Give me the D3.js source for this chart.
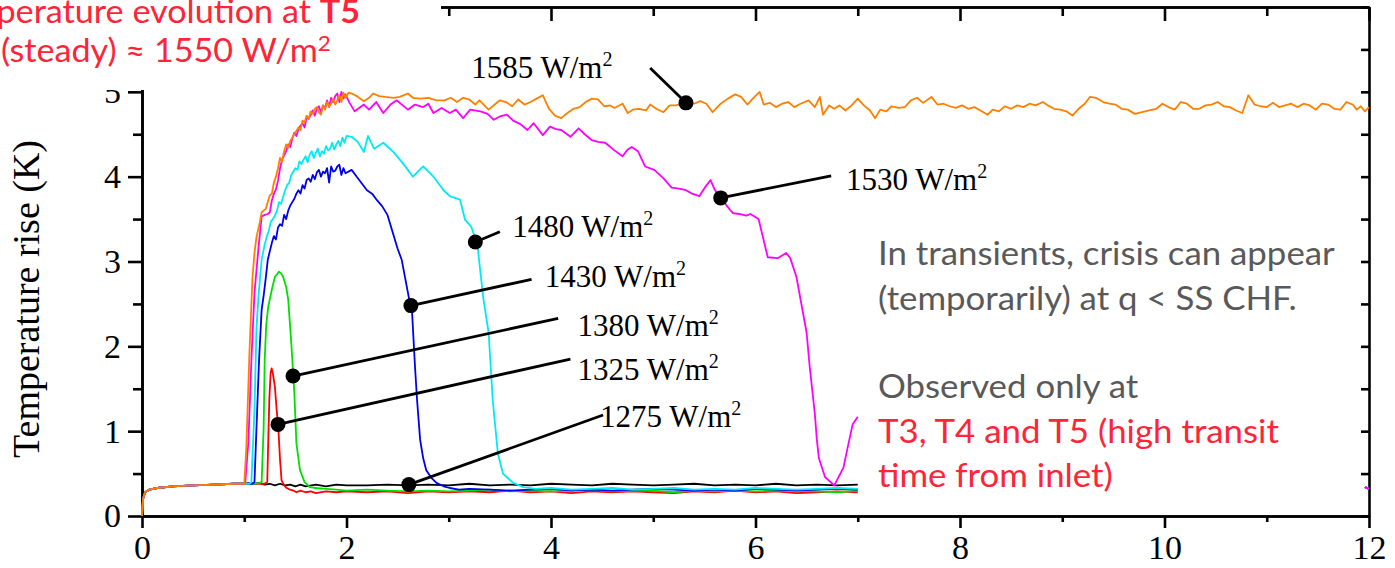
<!DOCTYPE html>
<html>
<head>
<meta charset="utf-8">
<script src="https://cdn.jsdelivr.net/npm/d3@7"></script>
<style>
  html, body { margin: 0; padding: 0; background: #fff; }
  svg { display: block; }
</style>
</head>
<body>
<script>

/**
 * Time axis (s) and temperature rise (K) ticks.
 */
var xMajor = [0, 2, 4, 6, 8, 10, 12];
var xMinor = [1, 3, 5, 7, 9, 11];
var yMajor = [0, 1, 2, 3, 4, 5];
var yMinor = [0.5, 1.5, 2.5, 3.5, 4.5, 5.5];

// Shared pre-transient baseline, every run starts on it.
var baseline = [
  [0, 0], [0.01, 0.2], [0.03, 0.28], [0.07, 0.31], [0.15, 0.33],
  [0.3, 0.35], [0.5, 0.36], [0.7, 0.37], [0.9, 0.38], [1.0, 0.38]
];

// Short stub the logger wrote at the very end of the window.
var endStub = [[7.05, null], [11.96, 0.34], [12, 0.32]];

var q1275 = [
  [1.05, 0.39], [1.1, 0.38], [1.15, 0.39], [1.2, 0.37], [1.25, 0.38],
  [1.3, 0.36], [1.35, 0.38], [1.4, 0.36], [1.45, 0.37], [1.5, 0.35],
  [1.55, 0.37], [1.6, 0.35], [1.7, 0.37], [1.8, 0.35], [1.9, 0.37],
  [2.0, 0.36], [2.2, 0.36], [2.4, 0.37], [2.6, 0.36], [2.8, 0.37],
  [3.0, 0.36], [3.2, 0.38], [3.4, 0.36], [3.6, 0.37], [3.8, 0.36],
  [4.0, 0.38], [4.2, 0.37], [4.4, 0.36], [4.6, 0.38], [4.8, 0.37],
  [5.0, 0.36], [5.2, 0.37], [5.4, 0.38], [5.6, 0.36], [5.8, 0.37],
  [6.0, 0.36], [6.2, 0.38], [6.4, 0.36], [6.6, 0.37], [6.8, 0.36],
  [7.0, 0.37]
];

var q1325 = [
  [1.1, 0.38], [1.2, 0.38], [1.225, 0.4], [1.235, 0.9], [1.245, 1.37],
  [1.258, 1.69], [1.268, 1.74], [1.28, 1.68], [1.3, 1.52], [1.317, 1.25],
  [1.333, 1.05], [1.35, 0.66], [1.365, 0.42], [1.39, 0.36], [1.415, 0.33],
  [1.45, 0.31], [1.48, 0.3], [1.51, 0.28], [1.55, 0.3], [1.6, 0.28],
  [1.65, 0.29], [1.7, 0.27], [1.8, 0.29], [1.9, 0.28], [2.0, 0.29],
  [2.2, 0.28], [2.4, 0.29], [2.6, 0.27], [2.8, 0.29], [3.0, 0.28],
  [3.2, 0.29], [3.4, 0.28], [3.6, 0.3], [3.8, 0.28], [4.0, 0.29],
  [4.2, 0.27], [4.4, 0.29], [4.6, 0.28], [4.8, 0.29], [5.0, 0.28],
  [5.2, 0.27], [5.4, 0.29], [5.6, 0.28], [5.8, 0.3], [6.0, 0.28],
  [6.2, 0.29], [6.4, 0.27], [6.6, 0.28], [6.8, 0.29], [7.0, 0.28]
];

var q1380 = [
  [1.1, 0.38], [1.15, 0.39], [1.17, 0.4], [1.19, 1.05], [1.2, 1.84],
  [1.215, 2.25], [1.235, 2.47], [1.27, 2.67], [1.3, 2.82], [1.32, 2.85],
  [1.34, 2.88], [1.36, 2.86], [1.38, 2.82], [1.41, 2.7], [1.43, 2.55],
  [1.46, 2.04], [1.49, 1.45], [1.51, 0.86], [1.545, 0.54], [1.59, 0.4],
  [1.64, 0.34], [1.7, 0.33], [1.8, 0.32], [1.9, 0.31], [2.0, 0.3],
  [2.2, 0.31], [2.4, 0.3], [2.6, 0.29], [2.8, 0.3], [3.0, 0.29],
  [3.2, 0.3], [3.4, 0.31], [3.6, 0.29], [3.8, 0.3], [4.0, 0.29],
  [4.2, 0.3], [4.4, 0.31], [4.6, 0.29], [4.8, 0.3], [5.0, 0.3],
  [5.2, 0.28], [5.4, 0.3], [5.6, 0.29], [5.8, 0.3], [6.0, 0.29],
  [6.2, 0.3], [6.4, 0.3], [6.6, 0.29], [6.8, 0.28], [7.0, 0.3]
];

var q1430 = [
  [1.08, 0.38], [1.1, 0.4], [1.12, 1.05], [1.145, 1.84], [1.17, 2.43],
  [1.19, 2.6], [1.21, 2.8], [1.23, 3.02], [1.25, 3.12], [1.27, 3.22],
  [1.29, 3.3], [1.31, 3.26], [1.33, 3.4], [1.35, 3.44], [1.37, 3.42],
  [1.39, 3.55], [1.41, 3.5], [1.43, 3.6], [1.45, 3.66], [1.47, 3.7],
  [1.49, 3.74], [1.51, 3.8], [1.53, 3.84], [1.55, 3.8], [1.57, 3.9],
  [1.59, 3.86], [1.61, 3.96], [1.63, 3.98], [1.65, 3.94], [1.67, 4.02],
  [1.69, 3.97], [1.71, 4.05], [1.73, 4.08], [1.75, 4.0], [1.77, 4.06],
  [1.79, 4.04], [1.81, 4.1], [1.83, 3.93], [1.85, 4.12], [1.87, 4.06],
  [1.89, 4.07], [1.91, 4.12], [1.93, 4.14], [1.95, 4.02], [1.97, 4.1],
  [1.99, 4.04], [2.05, 4.08], [2.1, 4.0], [2.15, 3.92], [2.2, 3.84],
  [2.25, 3.8], [2.3, 3.72], [2.35, 3.65], [2.4, 3.55], [2.45, 3.35],
  [2.5, 3.15], [2.54, 3.02], [2.59, 2.7], [2.62, 2.51], [2.64, 2.43],
  [2.67, 1.76], [2.69, 1.37], [2.72, 0.9], [2.75, 0.68], [2.78, 0.54],
  [2.83, 0.45], [2.88, 0.39], [2.95, 0.35], [3.01, 0.33], [3.1, 0.31],
  [3.2, 0.32], [3.4, 0.31], [3.6, 0.3], [3.8, 0.31], [4.0, 0.32],
  [4.2, 0.3], [4.4, 0.31], [4.6, 0.3], [4.8, 0.31], [5.0, 0.32],
  [5.2, 0.31], [5.4, 0.3], [5.6, 0.31], [5.8, 0.3], [6.0, 0.32],
  [6.2, 0.31], [6.4, 0.3], [6.6, 0.31], [6.8, 0.32], [7.0, 0.31]
];

var q1480 = [
  [1.05, 0.38], [1.07, 0.4], [1.1, 1.25], [1.12, 2.23], [1.14, 2.6],
  [1.17, 3.02], [1.2, 3.2], [1.22, 3.29], [1.24, 3.36], [1.26, 3.47],
  [1.28, 3.5], [1.3, 3.54], [1.32, 3.6], [1.34, 3.7], [1.36, 3.68],
  [1.38, 3.76], [1.4, 3.84], [1.42, 3.9], [1.44, 3.93], [1.46, 4.02],
  [1.48, 4.06], [1.5, 4.1], [1.52, 4.08], [1.54, 4.18], [1.56, 4.15],
  [1.58, 4.2], [1.6, 4.24], [1.62, 4.17], [1.64, 4.26], [1.66, 4.3],
  [1.68, 4.22], [1.7, 4.28], [1.72, 4.33], [1.74, 4.24], [1.76, 4.3],
  [1.78, 4.27], [1.8, 4.36], [1.82, 4.31], [1.84, 4.33], [1.86, 4.4],
  [1.88, 4.32], [1.9, 4.38], [1.92, 4.42], [1.94, 4.36], [1.96, 4.46],
  [1.98, 4.4], [2.0, 4.48], [2.05, 4.47], [2.11, 4.41], [2.17, 4.29],
  [2.21, 4.48], [2.27, 4.33], [2.36, 4.4], [2.46, 4.29], [2.55, 4.16],
  [2.65, 4.0], [2.75, 4.12], [2.85, 4.0], [2.95, 3.84], [3.01, 3.77],
  [3.11, 3.73], [3.16, 3.49], [3.22, 3.41], [3.28, 3.2], [3.31, 2.87],
  [3.34, 2.55], [3.39, 2.16], [3.43, 1.37], [3.48, 0.74], [3.53, 0.5],
  [3.63, 0.39], [3.73, 0.34], [3.85, 0.32], [4.0, 0.33], [4.2, 0.31],
  [4.4, 0.32], [4.6, 0.33], [4.8, 0.31], [5.0, 0.32], [5.2, 0.33],
  [5.4, 0.31], [5.6, 0.32], [5.8, 0.31], [6.0, 0.33], [6.2, 0.32],
  [6.4, 0.31], [6.6, 0.32], [6.8, 0.33], [7.0, 0.32]
];

var q1530 = [
  [1.01, 0.4], [1.04, 0.86], [1.07, 1.84], [1.1, 2.63], [1.14, 3.17],
  [1.17, 3.53], [1.2, 3.55], [1.23, 3.56], [1.25, 3.58], [1.27, 3.72],
  [1.29, 3.8], [1.31, 3.85], [1.33, 3.95], [1.35, 4.1], [1.37, 4.2],
  [1.39, 4.25], [1.41, 4.3], [1.43, 4.38], [1.45, 4.35], [1.47, 4.45],
  [1.49, 4.52], [1.51, 4.48], [1.53, 4.56], [1.55, 4.6], [1.57, 4.63],
  [1.59, 4.58], [1.61, 4.7], [1.63, 4.68], [1.65, 4.73], [1.67, 4.78],
  [1.69, 4.72], [1.71, 4.8], [1.73, 4.83], [1.75, 4.76], [1.77, 4.84],
  [1.79, 4.81], [1.81, 4.9], [1.83, 4.82], [1.85, 4.93], [1.87, 4.88],
  [1.89, 4.95], [1.91, 4.98], [1.93, 4.88], [1.95, 5.0], [1.97, 4.92],
  [1.99, 4.97], [2.03, 4.87], [2.08, 4.77], [2.17, 4.85], [2.22, 4.79],
  [2.29, 4.88], [2.36, 4.75], [2.43, 4.85], [2.49, 4.9], [2.55, 4.84],
  [2.6, 4.79], [2.67, 4.85], [2.75, 4.82], [2.8, 4.86], [2.85, 4.75],
  [2.93, 4.81], [3.01, 4.75], [3.07, 4.79], [3.14, 4.69], [3.21, 4.79],
  [3.31, 4.77], [3.38, 4.74], [3.44, 4.67], [3.5, 4.71], [3.57, 4.73],
  [3.63, 4.66], [3.7, 4.62], [3.77, 4.55], [3.83, 4.63], [3.92, 4.49],
  [3.99, 4.59], [4.05, 4.56], [4.1, 4.55], [4.19, 4.47], [4.27, 4.57],
  [4.33, 4.5], [4.4, 4.43], [4.46, 4.41], [4.53, 4.4], [4.62, 4.31],
  [4.7, 4.24], [4.75, 4.32], [4.79, 4.35], [4.85, 4.3], [4.92, 4.12],
  [5.01, 4.08], [5.1, 3.98], [5.18, 3.87], [5.25, 3.86], [5.32, 3.84],
  [5.38, 3.8], [5.45, 3.77], [5.51, 3.88], [5.56, 3.96], [5.6, 3.85],
  [5.66, 3.75], [5.75, 3.61], [5.78, 3.57], [5.84, 3.56], [5.91, 3.54],
  [5.95, 3.56], [6.03, 3.5], [6.12, 3.05], [6.22, 3.04], [6.3, 3.1],
  [6.34, 3.04], [6.4, 2.82], [6.5, 2.16], [6.53, 1.76], [6.58, 1.21],
  [6.6, 0.9], [6.62, 0.68], [6.68, 0.46], [6.77, 0.36], [6.86, 0.57],
  [6.9, 0.8], [6.95, 1.08], [7.0, 1.17]
];

var q1585 = [
  [1.02, 0.8], [1.05, 1.9], [1.08, 2.8], [1.1, 3.1], [1.12, 3.29],
  [1.15, 3.45], [1.17, 3.58], [1.19, 3.6], [1.21, 3.62], [1.23, 3.7],
  [1.25, 3.78], [1.27, 3.8], [1.29, 3.93], [1.31, 4.0], [1.33, 4.1],
  [1.35, 4.22], [1.37, 4.18], [1.39, 4.3], [1.41, 4.38], [1.43, 4.34],
  [1.45, 4.42], [1.47, 4.46], [1.49, 4.5], [1.51, 4.54], [1.53, 4.58],
  [1.55, 4.55], [1.57, 4.66], [1.59, 4.64], [1.61, 4.72], [1.63, 4.68],
  [1.65, 4.77], [1.67, 4.74], [1.69, 4.8], [1.71, 4.82], [1.73, 4.76],
  [1.75, 4.73], [1.77, 4.84], [1.79, 4.79], [1.81, 4.88], [1.83, 4.83],
  [1.85, 4.86], [1.87, 4.92], [1.89, 4.85], [1.91, 4.9], [1.93, 4.96],
  [1.95, 4.88], [1.97, 4.99], [1.99, 4.93], [2.02, 4.99], [2.05, 4.98],
  [2.1, 4.95], [2.17, 4.89], [2.22, 4.93], [2.26, 4.98], [2.32, 4.95],
  [2.38, 4.94], [2.46, 4.93], [2.52, 4.94], [2.6, 4.98], [2.65, 4.93],
  [2.72, 4.92], [2.8, 4.93], [2.88, 4.9], [2.96, 4.9], [3.02, 4.93],
  [3.08, 4.88], [3.14, 4.93], [3.2, 4.91], [3.26, 4.85], [3.3, 4.9],
  [3.39, 4.79], [3.45, 4.85], [3.5, 4.9], [3.56, 4.88], [3.62, 4.83],
  [3.68, 4.91], [3.74, 4.85], [3.8, 4.88], [3.86, 4.92], [3.92, 4.96],
  [3.98, 4.8], [4.04, 4.72], [4.1, 4.69], [4.16, 4.75], [4.22, 4.8],
  [4.28, 4.82], [4.34, 4.88], [4.4, 4.92], [4.46, 4.91], [4.52, 4.83],
  [4.58, 4.84], [4.62, 4.81], [4.7, 4.86], [4.75, 4.75], [4.8, 4.79],
  [4.86, 4.8], [4.93, 4.78], [4.97, 4.85], [5.03, 4.8], [5.1, 4.76],
  [5.16, 4.84], [5.22, 4.84], [5.32, 4.87], [5.4, 4.86], [5.46, 4.89],
  [5.52, 4.86], [5.58, 4.76], [5.66, 4.86], [5.73, 4.92], [5.8, 4.97],
  [5.86, 4.94], [5.92, 4.85], [5.98, 4.93], [6.04, 5.0], [6.08, 4.85],
  [6.14, 4.87], [6.2, 4.82], [6.26, 4.86], [6.32, 4.88], [6.38, 4.82],
  [6.44, 4.86], [6.52, 4.9], [6.58, 4.82], [6.63, 4.94], [6.66, 4.73],
  [6.72, 4.84], [6.77, 4.8], [6.82, 4.84], [6.88, 4.78], [6.94, 4.84],
  [7.0, 4.92], [7.06, 4.84], [7.12, 4.78], [7.17, 4.69], [7.22, 4.79],
  [7.28, 4.77], [7.33, 4.83], [7.4, 4.81], [7.46, 4.82], [7.52, 4.9],
  [7.58, 4.93], [7.64, 4.87], [7.72, 4.94], [7.78, 4.85], [7.84, 4.86],
  [7.9, 4.83], [7.96, 4.81], [8.02, 4.84], [8.08, 4.8], [8.14, 4.82],
  [8.2, 4.78], [8.27, 4.73], [8.32, 4.79], [8.38, 4.77], [8.44, 4.83],
  [8.5, 4.8], [8.56, 4.84], [8.62, 4.82], [8.68, 4.86], [8.74, 4.84],
  [8.81, 4.88], [8.86, 4.84], [8.92, 4.8], [8.98, 4.79], [9.04, 4.77],
  [9.1, 4.72], [9.16, 4.8], [9.22, 4.86], [9.27, 4.94], [9.33, 4.93],
  [9.4, 4.88], [9.46, 4.86], [9.52, 4.85], [9.58, 4.8], [9.64, 4.79],
  [9.71, 4.74], [9.78, 4.76], [9.85, 4.78], [9.92, 4.8], [9.98, 4.86],
  [10.04, 4.82], [10.1, 4.79], [10.16, 4.88], [10.22, 4.86], [10.28, 4.8],
  [10.34, 4.8], [10.4, 4.84], [10.46, 4.85], [10.52, 4.88], [10.58, 4.83],
  [10.64, 4.82], [10.7, 4.78], [10.76, 4.75], [10.82, 4.96], [10.88, 4.85],
  [10.94, 4.83], [11.0, 4.82], [11.06, 4.87], [11.12, 4.82], [11.18, 4.84],
  [11.24, 4.86], [11.3, 4.82], [11.36, 4.86], [11.42, 4.84], [11.48, 4.79],
  [11.54, 4.86], [11.6, 4.85], [11.66, 4.8], [11.72, 4.79], [11.78, 4.88],
  [11.84, 4.85], [11.88, 4.79], [11.92, 4.83], [11.96, 4.77], [12.0, 4.82]
];

var fluxes = [1275, 1325, 1380, 1430, 1480, 1530, 1585];
var colors = ['#000000', '#ff0000', '#00e000', '#0000f0', '#00eaf2',
  '#ff00ff', '#ff8000'];
var runs = [
  baseline.concat(q1275),
  baseline.concat(q1325, endStub),
  baseline.concat(q1380, endStub),
  baseline.concat(q1430, endStub),
  baseline.concat(q1480, endStub),
  baseline.concat(q1530, endStub),
  baseline.concat(q1585)
];

// Callouts, same order as fluxes: point on the curve, leader end, text.
var calloutDots = [[2.61, 0.37], [1.33, 1.08], [1.477, 1.65], [2.63, 2.48],
  [3.26, 3.23], [5.66, 3.75], [5.32, 4.87]];
var calloutEnds = [[4.51, 1.19], [4.19, 1.85], [4.07, 2.33], [3.81, 2.79],
  [3.5, 3.35], [6.74, 4.01], [4.97, 5.28]];
var calloutText = [[4.48, 1.05], [4.26, 1.6], [4.26, 2.12], [3.94, 2.7],
  [3.62, 3.29], [6.885, 3.84], [3.22, 5.165]];


var width = 1395, height = 568;
var serif = "'Liberation Serif', 'Times New Roman', serif";
var sans = "Lato, 'Open Sans', sans-serif";
var red = '#ff2438', grey = '#595959';

var x = d3.scaleLinear().domain([0, 12]).range([142, 1369]);
var y = d3.scaleLinear().domain([0, 6]).range([516, 7]);

var svg = d3.select('body').append('svg')
  .attr('width', width)
  .attr('height', height);


/**
 * Thick black frame with ticks in and out like the original plot.
 */
function ink(g) {
  g.select('.domain').attr('stroke', '#000').attr('stroke-width', 2.6);
  g.selectAll('.tick line').attr('stroke', '#000').attr('stroke-width', 2.6);
}

svg.append('g').attr('transform', 'translate(0,516)')
  .call(d3.axisBottom(x).tickValues(xMinor).tickSize(6)
    .tickSizeOuter(0).tickFormat(''))
  .call(ink);

svg.append('g').attr('transform', 'translate(0,516)')
  .call(d3.axisBottom(x).tickValues(xMajor).tickSize(12)
    .tickSizeOuter(0).tickPadding(7).tickFormat(d3.format('d')))
  .call(ink)
  .selectAll('text')
  .attr('font-family', serif).attr('font-size', 34).attr('fill', '#000');

svg.append('g').attr('transform', 'translate(0,7)')
  .call(d3.axisTop(x).tickValues(xMinor).tickSize(-9)
    .tickSizeOuter(0).tickFormat(''))
  .call(ink);

svg.append('g').attr('transform', 'translate(0,7)')
  .call(d3.axisTop(x).tickValues(xMajor).tickSize(-14)
    .tickSizeOuter(0).tickFormat(''))
  .call(ink);

svg.append('g').attr('transform', 'translate(142,0)')
  .call(d3.axisLeft(y).tickValues(yMinor).tickSize(9)
    .tickSizeOuter(0).tickFormat(''))
  .call(ink);

svg.append('g').attr('transform', 'translate(142,0)')
  .call(d3.axisLeft(y).tickValues(yMajor).tickSize(14)
    .tickSizeOuter(0).tickPadding(7).tickFormat(d3.format('d')))
  .call(ink)
  .selectAll('text')
  .attr('font-family', serif).attr('font-size', 34).attr('fill', '#000');

svg.append('g').attr('transform', 'translate(1369,0)')
  .call(d3.axisRight(y).tickValues(yMajor.concat(yMinor, [6]))
    .tickSize(-8).tickSizeOuter(0).tickFormat(''))
  .call(ink);

svg.append('text')
  .attr('transform', 'translate(39,299) rotate(-90)')
  .attr('text-anchor', 'middle')
  .attr('font-family', serif)
  .attr('font-size', 37)
  .attr('textLength', 318)
  .attr('lengthAdjust', 'spacingAndGlyphs')
  .text('Temperature rise (K)');


/**
 * Temperature traces, one per heat flux.
 */
var line = d3.line()
  .defined(function(d) { return d[1] !== null; })
  .x(function(d) { return x(d[0]); })
  .y(function(d) { return y(d[1]); });

svg.append('g').selectAll('path')
  .data(runs)
  .join('path')
  .attr('d', line)
  .attr('fill', 'none')
  .attr('stroke', function(d, i) { return colors[i]; })
  .attr('stroke-width', 1.8)
  .attr('stroke-linejoin', 'round');


/**
 * Heat flux callouts.
 */
var callouts = svg.append('g');

callouts.selectAll('line')
  .data(fluxes)
  .join('line')
  .attr('x1', function(d, i) { return x(calloutDots[i][0]); })
  .attr('y1', function(d, i) { return y(calloutDots[i][1]); })
  .attr('x2', function(d, i) { return x(calloutEnds[i][0]); })
  .attr('y2', function(d, i) { return y(calloutEnds[i][1]); })
  .attr('stroke', '#000')
  .attr('stroke-width', 2.8);

callouts.selectAll('circle')
  .data(fluxes)
  .join('circle')
  .attr('cx', function(d, i) { return x(calloutDots[i][0]); })
  .attr('cy', function(d, i) { return y(calloutDots[i][1]); })
  .attr('r', 7.5)
  .attr('fill', '#000');

var labels = callouts.selectAll('text')
  .data(fluxes)
  .join('text')
  .attr('x', function(d, i) { return x(calloutText[i][0]); })
  .attr('y', function(d, i) { return y(calloutText[i][1]); })
  .attr('font-family', serif)
  .attr('font-size', 31);

labels.append('tspan').text(function(d) { return d + ' W/m'; });
labels.append('tspan')
  .attr('font-size', 20)
  .attr('dy', -12)
  .text('2');


/**
 * Boxed slide title that sits over the top-left corner.
 */
svg.append('rect')
  .attr('x', 0).attr('y', 0)
  .attr('width', 441).attr('height', 90)
  .attr('fill', '#fff');

function squash(sel, w) {
  return w / sel.node().getComputedTextLength();
}

var title2 = svg.append('text')
  .attr('font-family', sans).attr('font-size', 32).attr('fill', red)
  .text('(steady) \u2248 1550 W/m');
title2.append('tspan').attr('font-size', 21).attr('dy', -11).text('2');
var kt = squash(title2, 330);
title2.attr('transform', 'translate(1,62) scale(' + kt + ',1)');

var title1 = svg.append('text')
  .attr('font-family', sans).attr('font-size', 32).attr('fill', red)
  .attr('text-anchor', 'end')
  .attr('transform', 'translate(360,23) scale(' + kt + ',1)')
  .text('Temperature evolution at ');
title1.append('tspan').attr('font-weight', 'bold').text('T5');


/**
 * Side note on the right.
 */
var notes = [
  ['In transients, crisis can appear', grey, 265],
  ['(temporarily) at q < SS CHF.', grey, 310],
  ['Observed only at', grey, 398],
  ['T3, T4 and T5 (high transit', red, 443],
  ['time from inlet)', red, 487]
];

var noteText = svg.append('g').selectAll('text')
  .data(notes)
  .join('text')
  .attr('font-family', sans)
  .attr('font-size', 33)
  .attr('fill', function(d) { return d[1]; })
  .text(function(d) { return d[0]; });

var kn = squash(noteText.filter(function(d, i) { return i === 0; }), 457);
noteText.attr('transform', function(d) {
  return 'translate(878,' + d[2] + ') scale(' + kn + ',1)';
});

</script>
</body>
</html>
